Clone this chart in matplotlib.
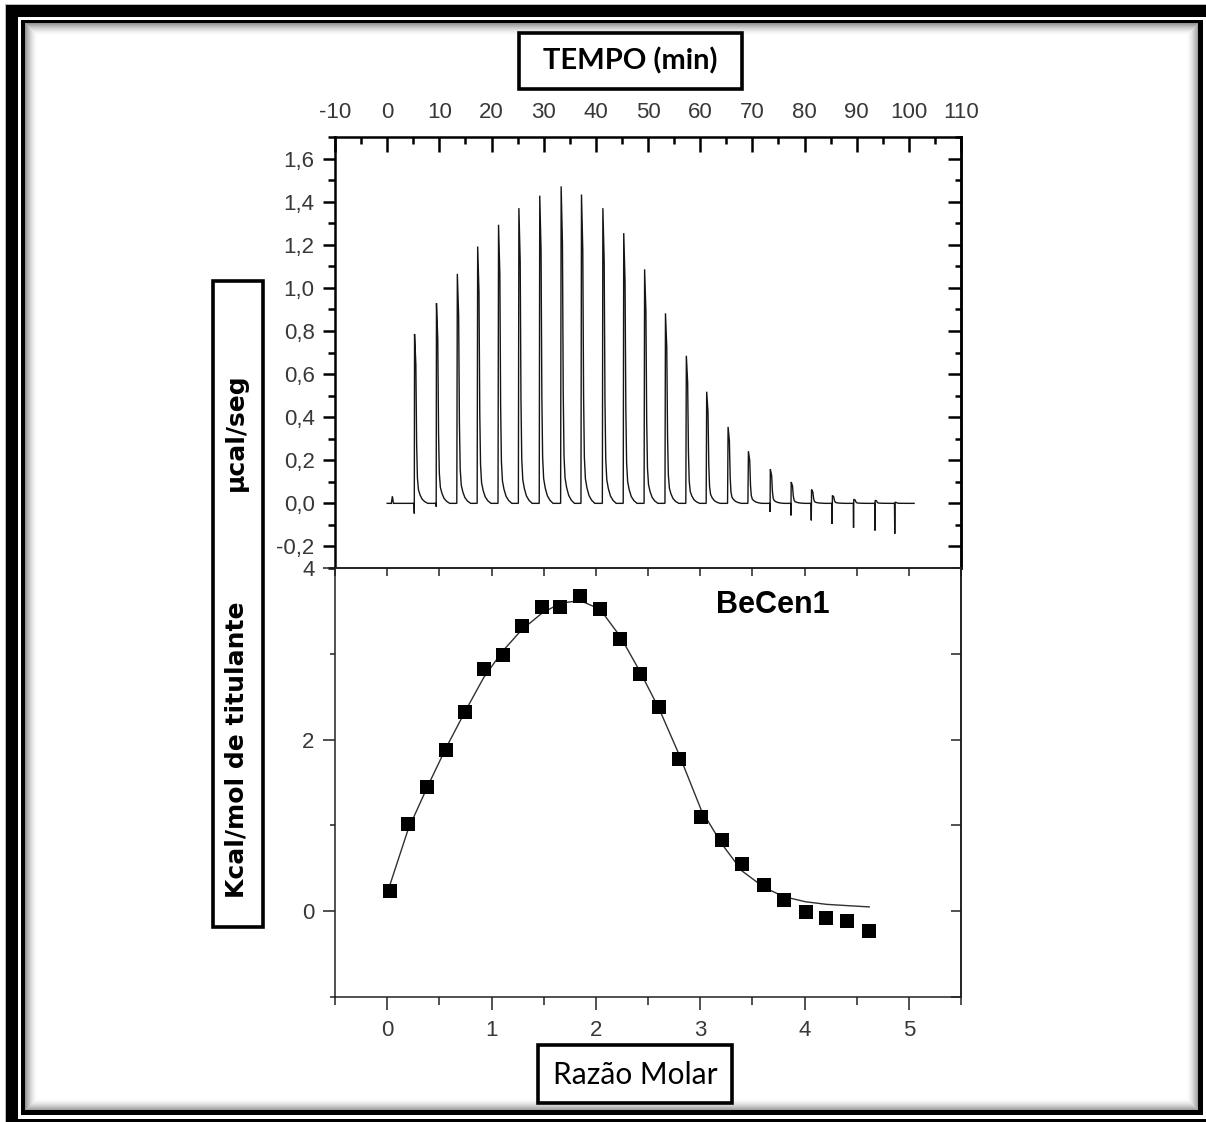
import matplotlib
matplotlib.use("Agg")
import matplotlib.pyplot as plt
from matplotlib import font_manager
from matplotlib.patches import Rectangle
from matplotlib.ticker import MultipleLocator, FuncFormatter

W, H, DPI = 1206, 1122, 100

# ---------------- raw thermogram (upper panel) ----------------
# injection times (min), peak heights and baseline dips (µcal/seg)
inj_time = [5.2, 9.4, 13.4, 17.3, 21.3, 25.2, 29.2, 33.3, 37.2, 41.3, 45.3, 49.3,
            53.3, 57.3, 61.2, 65.3, 69.2, 73.4, 77.4, 81.3, 85.3, 89.4, 93.5, 97.3]
peak_height = [0.786, 0.929, 1.065, 1.192, 1.293, 1.370, 1.428, 1.471, 1.433, 1.370,
               1.254, 1.086, 0.882, 0.685, 0.518, 0.355, 0.242, 0.158, 0.099, 0.064,
               0.037, 0.019, 0.014, 0.005]
dip_depth = [-0.047, -0.015, 0, 0, 0, 0, 0, 0, 0, 0, 0, 0,
             0, 0, 0, 0, 0, -0.040, -0.056, -0.079, -0.096, -0.113, -0.126, -0.141]
# shape of one injection peak: minutes after injection, fraction of peak height
profile_dt = [0.0, 0.05, 0.30, 0.45, 0.60, 0.80, 1.10, 1.50, 2.00, 2.60]
profile_rel = [0.0, 1.0, 0.82, 0.35, 0.15, 0.08, 0.05, 0.025, 0.01, 0.0]
run_start, run_end = 0.0, 101.0
pre_blip_time, pre_blip_height = 1.0, 0.033

# ---------------- integrated heats (lower panel) ----------------
molar_ratio = [0.03, 0.20, 0.386, 0.563, 0.748, 0.924, 1.106, 1.29, 1.48, 1.66, 1.85,
               2.04, 2.235, 2.42, 2.61, 2.80, 3.01, 3.21, 3.40, 3.61, 3.80, 4.01,
               4.21, 4.41, 4.62]
heat = [0.235, 1.02, 1.45, 1.88, 2.32, 2.82, 2.99, 3.32, 3.55, 3.55, 3.67,
        3.52, 3.17, 2.77, 2.38, 1.77, 1.10, 0.83, 0.55, 0.31, 0.13, -0.006,
        -0.085, -0.115, -0.23]
fit = [0.32, 0.95, 1.45, 1.90, 2.33, 2.72, 3.03, 3.28, 3.47, 3.59, 3.62,
       3.52, 3.20, 2.80, 2.35, 1.82, 1.18, 0.78, 0.47, 0.28, 0.17, 0.11,
       0.08, 0.065, 0.05]

top_xlabel = "TEMPO (min)"
bottom_xlabel = "Razão Molar"
ylabel_top = "µcal/seg"
ylabel_bottom = "Kcal/mol de titulante"
sample_name = "BeCen1"

# ---------------- build the thermogram trace ----------------
trace_t = [run_start, pre_blip_time - 0.2, pre_blip_time, pre_blip_time + 0.2]
trace_v = [0.0, 0.0, pre_blip_height, 0.0]
for t0, h, d in zip(inj_time, peak_height, dip_depth):
    trace_t.append(t0 - 0.05)
    trace_v.append(0.0)
    if d:
        trace_t.append(t0)
        trace_v.append(d)
    for dt, rel in zip(profile_dt[1:], profile_rel[1:]):
        trace_t.append(t0 + dt)
        trace_v.append(h * rel)
trace_t.append(run_end)
trace_v.append(0.0)

# ---------------- fonts ----------------
installed = {f.name for f in font_manager.fontManager.ttflist}
if "Liberation Sans Narrow" in installed:
    top_tick_family, top_tick_size = "Liberation Sans Narrow", 18
else:
    top_tick_family, top_tick_size = "Liberation Sans", 16
tick_family = "Liberation Sans"
tick_size = 16
tick_color = "#383838"

fig = plt.figure(figsize=(W / DPI, H / DPI), dpi=DPI)
fig.patch.set_facecolor("white")


def px_rect(x0, y0, x1, y1, **kw):
    """Rectangle given in pixel coordinates measured from the top-left corner."""
    r = Rectangle((x0 / W, 1 - y1 / H), (x1 - x0) / W, (y1 - y0) / H,
                  transform=fig.transFigure, **kw)
    fig.add_artist(r)
    return r


# ---------------- page frame ----------------
px_rect(5, 4, 1206, 5, facecolor="#bbbbbb", edgecolor="none", zorder=0)
px_rect(5, 4, 6, 1122, facecolor="#bbbbbb", edgecolor="none", zorder=0)
px_rect(6, 5, 1206, 17, facecolor="black", edgecolor="none", zorder=0)
px_rect(6, 5, 18, 1122, facecolor="black", edgecolor="none", zorder=0)
px_rect(6, 1119, 1206, 1122, facecolor="black", edgecolor="none", zorder=0)
px_rect(21, 20, 1203, 23, facecolor="black", edgecolor="none", zorder=0)
px_rect(21, 20, 25, 1115, facecolor="black", edgecolor="none", zorder=0)
px_rect(1198, 20, 1203, 1115, facecolor="black", edgecolor="none", zorder=0)
px_rect(21, 1110, 1203, 1115, facecolor="black", edgecolor="none", zorder=0)
n_glow = 12
for i in range(n_glow):
    a = 0.42 * (1 - i / n_glow) ** 1.6
    px_rect(25 + i, 23 + i, 1198 - i, 1110 - i, facecolor="none",
            edgecolor=(0, 0, 0, a), linewidth=72 / DPI, zorder=0)

# ---------------- upper panel: raw heat flow ----------------
ax1 = fig.add_axes([335 / W, 1 - 568 / H, 626 / W, 431 / H])
ax1.plot(trace_t, trace_v, color="#151515", lw=1.0, solid_joinstyle="miter")
ax1.set_xlim(-10, 110)
ax1.set_ylim(-0.3, 1.7)
ax1.xaxis.set_major_locator(MultipleLocator(10))
ax1.xaxis.set_minor_locator(MultipleLocator(5))
ax1.yaxis.set_major_locator(MultipleLocator(0.2))
ax1.yaxis.set_minor_locator(MultipleLocator(0.1))
ax1.xaxis.set_major_formatter(FuncFormatter(lambda v, p: f"{round(v):d}"))
ax1.yaxis.set_major_formatter(
    FuncFormatter(lambda v, p: f"{round(v, 1) + 0.0:.1f}".replace(".", ",")))
ax1.tick_params(axis="x", which="both", bottom=False, labelbottom=False,
                top=True, labeltop=True, direction="in", colors="black",
                labelcolor=tick_color, labelsize=top_tick_size,
                labelfontfamily=top_tick_family)
ax1.tick_params(axis="x", which="major", length=10.5, width=1.8, pad=10)
ax1.tick_params(axis="x", which="minor", length=5.0, width=1.8)
ax1.tick_params(axis="y", which="both", left=True, right=False, direction="out",
                labelcolor=tick_color, labelsize=tick_size,
                labelfontfamily=tick_family)
ax1.tick_params(axis="y", which="major", length=8.6, width=1.8, pad=6)
ax1.tick_params(axis="y", which="minor", length=5.0, width=1.8)
for side in ("left", "top", "right"):
    ax1.spines[side].set_linewidth(1.8)
ax1.spines["bottom"].set_visible(False)
sec1 = ax1.secondary_yaxis("right")
sec1.yaxis.set_major_locator(MultipleLocator(0.2))
sec1.yaxis.set_minor_locator(MultipleLocator(0.1))
sec1.tick_params(which="both", direction="in", labelright=False, width=1.8)
sec1.tick_params(which="major", length=9.4)
sec1.tick_params(which="minor", length=4.3)
sec1.spines["right"].set_linewidth(1.8)

# ---------------- lower panel: integrated heats ----------------
ax2 = fig.add_axes([335 / W, 1 - 997 / H, 626 / W, 429 / H])
ax2.plot(molar_ratio, fit, "-", color="#303030", lw=1.0, zorder=2)
ax2.plot(molar_ratio, heat, "s", color="black", ms=9.6, mew=0, zorder=3)
ax2.set_xlim(-0.5, 5.5)
ax2.set_ylim(-1, 4)
ax2.xaxis.set_major_locator(MultipleLocator(1))
ax2.xaxis.set_minor_locator(MultipleLocator(0.5))
ax2.yaxis.set_major_locator(MultipleLocator(2))
ax2.yaxis.set_minor_locator(MultipleLocator(1))
ax2.xaxis.set_major_formatter(FuncFormatter(lambda v, p: f"{round(v):d}"))
ax2.yaxis.set_major_formatter(FuncFormatter(lambda v, p: f"{round(v):d}"))
ax2.tick_params(which="both", top=False, right=False, direction="out",
                color="#222222", labelcolor=tick_color, labelsize=tick_size,
                labelfontfamily=tick_family)
ax2.tick_params(axis="x", which="major", length=9.4, width=1.1, pad=7)
ax2.tick_params(axis="x", which="minor", length=5.8, width=1.1)
ax2.tick_params(axis="y", which="major", length=8.6, width=1.1, pad=6)
ax2.tick_params(axis="y", which="minor", length=3.6, width=1.1)
for side in ax2.spines:
    ax2.spines[side].set_linewidth(1.1)
    ax2.spines[side].set_color("#222222")
sec2x = ax2.secondary_xaxis("top")
sec2x.xaxis.set_major_locator(MultipleLocator(0.5))
sec2x.tick_params(direction="in", labeltop=False, length=6, width=1.1,
                  color="#222222")
sec2x.spines["top"].set_linewidth(1.1)
sec2y = ax2.secondary_yaxis("right")
sec2y.yaxis.set_major_locator(MultipleLocator(1))
sec2y.tick_params(direction="in", labelright=False, length=7.5, width=1.1,
                  color="#222222")
sec2y.spines["right"].set_linewidth(1.1)

# sample name, placed in figure pixel space
fig.text(773 / W, 1 - 605 / H, sample_name, fontsize=22, fontweight="bold",
         family="Liberation Sans", ha="center", va="center", zorder=6)

# ---------------- boxed axis titles ----------------
box_kw = dict(facecolor="white", edgecolor="black", linewidth=2.6, zorder=5)
px_rect(519, 33, 742, 89, **box_kw)
fig.text(630.5 / W, 1 - 61 / H, top_xlabel, ha="center", va="center",
         fontsize=21, fontweight="bold", family="Lato", zorder=6)
px_rect(538, 1045, 732, 1103, **box_kw)
fig.text(635 / W, 1 - 1075 / H, bottom_xlabel, ha="center", va="center",
         fontsize=21.5, family="Lato", zorder=6)
px_rect(213, 281, 263, 927, **box_kw)
fig.text(236 / W, 1 - 432 / H, ylabel_top, ha="center", va="center",
         rotation=90, fontsize=18, fontweight="bold", family="DejaVu Sans",
         zorder=6)
fig.text(236 / W, 1 - 750 / H, ylabel_bottom, ha="center", va="center",
         rotation=90, fontsize=18, fontweight="bold", family="DejaVu Sans",
         zorder=6)

fig.savefig("out.png", dpi=DPI, facecolor="white")
